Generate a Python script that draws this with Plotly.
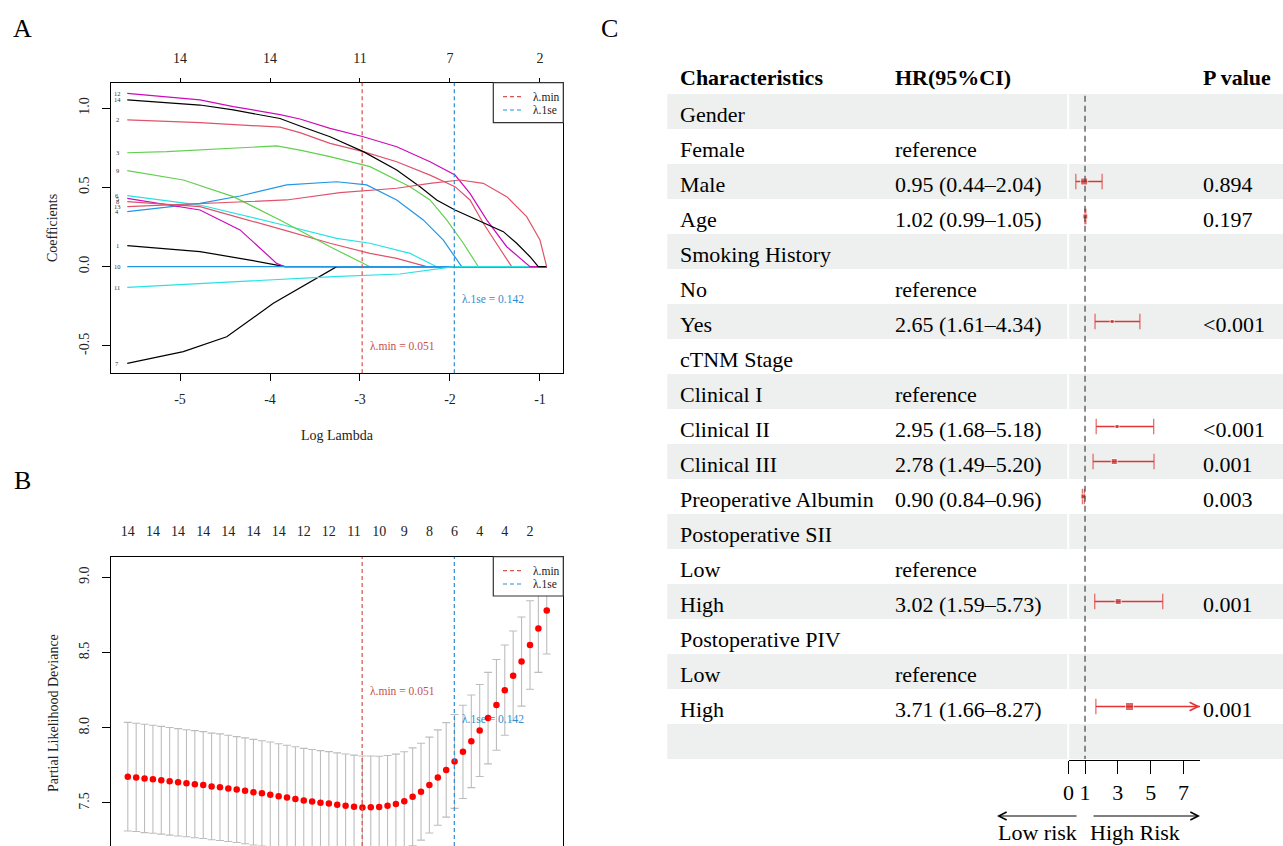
import math
import plotly.graph_objects as go

W, H = 1283, 846
SERIF = "Liberation Serif"

# ---------------- Panel A: LASSO coefficient paths (x = log lambda, y = coefficient) ----------------
path1_x = [-5.586, -4.778, -4.222, -3.833, -0.926]
path1_y = [0.133, 0.095, 0.042, 0.0, 0.0]
path2_x = [-5.586, -4.778, -3.889, -3.667, -3.333, -2.963, -2.592, -2.222, -1.944, -1.778, -1.630, -1.481, -1.315, -0.926]
path2_y = [0.926, 0.909, 0.880, 0.846, 0.778, 0.726, 0.662, 0.578, 0.505, 0.421, 0.274, 0.148, 0.0, 0.0]
path3_x = [-5.586, -5.148, -3.926, -3.667, -3.333, -2.889, -2.444, -2.222, -2.037, -1.852, -1.685, -0.926]
path3_y = [0.719, 0.726, 0.762, 0.736, 0.694, 0.631, 0.505, 0.421, 0.295, 0.148, 0.0, 0.0]
path4_x = [-5.586, -4.778, -4.333, -3.815, -3.259, -2.926, -2.592, -2.297, -2.074, -1.870, -0.926]
path4_y = [0.347, 0.400, 0.446, 0.516, 0.536, 0.516, 0.421, 0.295, 0.168, 0.0, 0.0]
path5_x = [-5.586, -4.778, -3.852, -3.259, -2.889, -2.444, -2.148, -0.926]
path5_y = [0.448, 0.389, 0.263, 0.179, 0.148, 0.084, 0.0, 0.0]
path6_x = [-5.586, -4.778, -4.333, -3.926, -3.833, -0.926]
path6_y = [0.431, 0.358, 0.232, 0.021, 0.0, 0.0]
path7_x = [-5.586, -4.963, -4.481, -3.963, -3.259, -0.926]
path7_y = [-0.610, -0.536, -0.442, -0.231, 0.0, 0.0]
path8_x = [-5.586, -4.778, -3.852, -3.333, -2.889, -2.592, -2.259, -0.926]
path8_y = [0.410, 0.379, 0.232, 0.148, 0.084, 0.053, 0.0, 0.0]
path9_x = [-5.586, -4.963, -4.408, -3.852, -3.333, -2.889, -0.926]
path9_y = [0.606, 0.547, 0.442, 0.284, 0.126, 0.0, 0.0]
path10_x = [-5.586, -0.926]
path10_y = [0.0, 0.0]
path11_x = [-5.586, -4.408, -3.297, -2.556, -1.952, -0.926]
path11_y = [-0.130, -0.095, -0.063, -0.046, 0.0, 0.0]
path12_x = [-5.586, -4.778, -4.408, -3.889, -3.667, -3.333, -2.963, -2.592, -2.222, -1.944, -1.778, -1.592, -1.370, -1.111, -0.926]
path12_y = [1.094, 1.052, 1.010, 0.960, 0.932, 0.873, 0.820, 0.757, 0.662, 0.578, 0.462, 0.295, 0.126, 0.0, 0.0]
path13_x = [-5.586, -4.778, -4.408, -3.889, -3.667, -3.333, -2.963, -2.592, -2.333, -2.148, -1.944, -1.704, -1.407, -1.259, -1.111, -1.019, -0.926]
path13_y = [1.052, 1.020, 0.989, 0.935, 0.888, 0.820, 0.726, 0.610, 0.505, 0.421, 0.358, 0.295, 0.221, 0.148, 0.063, 0.0, 0.0]
path14_x = [-5.586, -4.778, -3.815, -3.222, -2.592, -2.222, -1.889, -1.630, -1.370, -1.148, -1.000, -0.926]
path14_y = [0.379, 0.396, 0.421, 0.467, 0.495, 0.526, 0.547, 0.526, 0.442, 0.316, 0.168, 0.0]

path_labels = ["1", "2", "3", "4", "6", "5", "7", "8", "9", "10", "11", "12", "14", "13"]
path_colors = ["black", "#DF536B", "#61D04F", "#2297E6", "#28E2E5", "#CD0BBC",
               "black", "#DF536B", "#61D04F", "#2297E6", "#28E2E5", "#CD0BBC",
               "black", "#DF536B"]
bottom_ticks_A = [-5, -4, -3, -2, -1]
top_labels_A = ["14", "14", "11", "7", "2"]
yticks_A = [-0.5, 0.0, 0.5, 1.0]
lambda_min = 0.051
lambda_1se = 0.142

# ---------------- Panel B: cross-validation curve ----------------
cv_loglam = [-5.580, -5.487, -5.394, -5.301, -5.208, -5.115, -5.021, -4.928, -4.835, -4.742,
             -4.649, -4.556, -4.463, -4.370, -4.277, -4.184, -4.090, -3.997, -3.904, -3.811,
             -3.718, -3.625, -3.532, -3.439, -3.346, -3.253, -3.160, -3.066, -2.973, -2.880,
             -2.787, -2.694, -2.601, -2.508, -2.415, -2.322, -2.229, -2.135, -2.042, -1.949,
             -1.856, -1.763, -1.670, -1.577, -1.484, -1.391, -1.298, -1.205, -1.111, -1.018, -0.925]
cv_mean = [7.675, 7.670, 7.663, 7.658, 7.651, 7.644, 7.637, 7.631, 7.625, 7.619,
           7.610, 7.605, 7.597, 7.589, 7.581, 7.572, 7.564, 7.555, 7.545, 7.536,
           7.526, 7.516, 7.509, 7.502, 7.496, 7.489, 7.482, 7.475, 7.470, 7.472,
           7.474, 7.482, 7.494, 7.512, 7.541, 7.575, 7.619, 7.669, 7.720, 7.776,
           7.840, 7.910, 7.982, 8.064, 8.152, 8.250, 8.345, 8.440, 8.550, 8.660, 8.780]
cv_sd = [0.361, 0.360, 0.360, 0.359, 0.358, 0.358, 0.357, 0.356, 0.356, 0.355,
         0.354, 0.354, 0.353, 0.352, 0.352, 0.351, 0.350, 0.350, 0.349, 0.348,
         0.348, 0.347, 0.346, 0.346, 0.345, 0.344, 0.344, 0.343, 0.342, 0.340,
         0.337, 0.334, 0.331, 0.328, 0.325, 0.322, 0.319, 0.317, 0.314, 0.312,
         0.310, 0.308, 0.306, 0.304, 0.302, 0.300, 0.298, 0.296, 0.294, 0.292, 0.290]
cv_top_labels = ["14", "14", "14", "14", "14", "14", "14", "12", "12", "11", "10", "9", "8", "6", "4", "4", "2"]
yticks_B = [7.5, 8.0, 8.5, 9.0]

# ---------------- Panel C: forest table ----------------
row_names = ["Gender", "Female", "Male", "Age", "Smoking History", "No", "Yes", "cTNM Stage",
             "Clinical I", "Clinical II", "Clinical III", "Preoperative Albumin", "Postoperative SII",
             "Low", "High", "Postoperative PIV", "Low", "High", ""]
hr_text = ["", "reference", "0.95 (0.44\u20132.04)", "1.02 (0.99\u20131.05)", "", "reference",
           "2.65 (1.61\u20134.34)", "", "reference", "2.95 (1.68\u20135.18)", "2.78 (1.49\u20135.20)",
           "0.90 (0.84\u20130.96)", "", "reference", "3.02 (1.59\u20135.73)", "", "reference",
           "3.71 (1.66\u20138.27)", ""]
p_text = ["", "", "0.894", "0.197", "", "", "<0.001", "", "", "<0.001", "0.001", "0.003",
          "", "", "0.001", "", "", "0.001", ""]
hr = [None, None, 0.95, 1.02, None, None, 2.65, None, None, 2.95, 2.78, 0.90, None, None, 3.02, None, None, 3.71, None]
hr_lo = [None, None, 0.44, 0.99, None, None, 1.61, None, None, 1.68, 1.49, 0.84, None, None, 1.59, None, None, 1.66, None]
hr_hi = [None, None, 2.04, 1.05, None, None, 4.34, None, None, 5.18, 5.20, 0.96, None, None, 5.73, None, None, 8.27, None]
box_size = [0, 0, 7, 5, 0, 0, 4, 0, 0, 4, 6, 5, 0, 0, 6, 0, 0, 8, 0]
forest_ticks = [0, 1, 3, 5, 7]
FOREST_MAX = 8

RED_L = "#D9534F"
BLUE_L = "#2F8DCF"
CI_RED = "#E23434"


def fx(p):
    return p / W


def fy(p):
    return 1 - p / H


fig = go.Figure()

# ---- Panel A traces
paths = [(path1_x, path1_y), (path2_x, path2_y), (path3_x, path3_y), (path4_x, path4_y),
         (path5_x, path5_y), (path6_x, path6_y), (path7_x, path7_y), (path8_x, path8_y),
         (path9_x, path9_y), (path10_x, path10_y), (path11_x, path11_y), (path12_x, path12_y),
         (path13_x, path13_y), (path14_x, path14_y)]
for (px_, py_), col in zip(paths, path_colors):
    fig.add_trace(go.Scatter(x=px_, y=py_, mode="lines", line=dict(color=col, width=1.2),
                             xaxis="x", yaxis="y", hoverinfo="skip"))

# invisible helpers so the top (overlaying) axes get drawn
fig.add_trace(go.Scatter(x=bottom_ticks_A, y=[0] * len(bottom_ticks_A), mode="markers",
                         marker=dict(opacity=0), xaxis="x4", yaxis="y", hoverinfo="skip"))
fig.add_trace(go.Scatter(x=cv_loglam, y=cv_mean, mode="markers",
                         marker=dict(opacity=0), xaxis="x5", yaxis="y2", hoverinfo="skip"))

# ---- Panel B trace
fig.add_trace(go.Scatter(x=cv_loglam, y=cv_mean, mode="markers",
                         marker=dict(color="red", size=6.5),
                         error_y=dict(type="data", array=cv_sd, color="#BDBDBD", thickness=1.1, width=4),
                         xaxis="x2", yaxis="y2", hoverinfo="skip"))

# ---- Panel C traces
ci_x, ci_y, cap_size = [], [], []
for k, (lo, hi) in enumerate(zip(hr_lo, hr_hi), start=1):
    if lo is None:
        continue
    hc = min(hi, FOREST_MAX)
    ci_x += [lo, hc, None]
    ci_y += [k, k, None]
    cap_size += [11, 11 if hi <= FOREST_MAX else 0, 0]
fig.add_trace(go.Scatter(x=ci_x, y=ci_y, mode="lines+markers",
                         line=dict(color=CI_RED, width=1.3),
                         marker=dict(symbol="line-ns", size=cap_size, line=dict(color=CI_RED, width=1.3)),
                         xaxis="x3", yaxis="y3", hoverinfo="skip", cliponaxis=False))
sq_x, sq_y, sq_s = [], [], []
for k, (v, s) in enumerate(zip(hr, box_size), start=1):
    if v is None:
        continue
    sq_x.append(v)
    sq_y.append(k)
    sq_s.append(s)
fig.add_trace(go.Scatter(x=sq_x, y=sq_y, mode="markers",
                         marker=dict(symbol="square", size=sq_s, color="#CC2A2A"),
                         xaxis="x3", yaxis="y3", hoverinfo="skip", cliponaxis=False))

shapes = []
annotations = []


def note(xp, yp, text, size, color="#222222", xanchor="center", angle=0):
    annotations.append(dict(x=fx(xp), y=fy(yp), xref="paper", yref="paper", text=text, showarrow=False,
                            xanchor=xanchor, yanchor="middle", textangle=angle, borderpad=0,
                            font=dict(family=SERIF, size=size, color=color)))


# ---- Panel A / B decorations
for lam, col in [(lambda_min, RED_L), (lambda_1se, BLUE_L)]:
    shapes.append(dict(type="line", xref="x", yref="y domain", x0=math.log(lam), x1=math.log(lam),
                       y0=0, y1=1, line=dict(color=col, width=1.2, dash="4px,3px")))
    shapes.append(dict(type="line", xref="x2", yref="y2 domain", x0=math.log(lam), x1=math.log(lam),
                       y0=0, y1=1, line=dict(color=col, width=1.2, dash="4px,3px")))

for lab, (px_, py_) in zip(path_labels, paths):
    annotations.append(dict(x=-5.70, y=py_[0], xref="x", yref="y", text=lab, showarrow=False, borderpad=0,
                            font=dict(family=SERIF, size=6.5, color="#333333"), xanchor="center",
                            yanchor="middle"))

note(460.5, 299, "\u03bb.1se = 0.142", 11.5, BLUE_L, xanchor="left")
note(369, 346, "\u03bb.min = 0.051", 11.5, "#C8504C", xanchor="left")
note(460.5, 719, "\u03bb.1se = 0.142", 11.5, BLUE_L, xanchor="left")
note(369, 691, "\u03bb.min = 0.051", 11.5, "#C8504C", xanchor="left")

# legends (A and B)
for top, bot in [(82.7, 122.7), (556.7, 596.0)]:
    shapes.append(dict(type="rect", xref="paper", yref="paper", x0=fx(493.3), x1=fx(563.3),
                       y0=fy(bot), y1=fy(top), fillcolor="white", line=dict(color="#333333", width=1.2),
                       layer="above"))
    for dy, col, txt in [(14.0, RED_L, "\u03bb.min"), (27.3, BLUE_L, "\u03bb.1se")]:
        shapes.append(dict(type="line", xref="paper", yref="paper", x0=fx(503), x1=fx(521),
                           y0=fy(top + dy), y1=fy(top + dy), line=dict(color=col, width=1.2, dash="4px,3px"),
                           layer="above"))
        note(531.5, top + dy, txt, 11.5, "#222222", xanchor="left")

# axis titles
note(337, 435, "Log Lambda", 14)
note(53, 228, "Coefficients", 14, angle=-90)
note(53, 713, "Partial Likelihood Deviance", 14, angle=-90)

# panel letters
for letter, (lx, ly) in zip(["A", "B", "C"], [(22.5, 28), (22, 480), (609, 28)]):
    note(lx, ly, letter, 26, "black")

# ---- Panel C decorations
BAND = "#EDF0EF"
for k in range(1, len(row_names) + 1):
    if k % 2 == 1:
        shapes.append(dict(type="rect", xref="paper", yref="y3", x0=fx(667.3), x1=fx(1067.3),
                           y0=k - 0.5, y1=k + 0.5, fillcolor=BAND, line=dict(width=0), layer="below"))
        shapes.append(dict(type="rect", xref="paper", yref="y3", x0=fx(1069.2), x1=1.0,
                           y0=k - 0.5, y1=k + 0.5, fillcolor=BAND, line=dict(width=0), layer="below"))

shapes.append(dict(type="line", xref="x3", yref="y3", x0=1, x1=1, y0=0.55, y1=19.5,
                   line=dict(color="#444444", width=1.2, dash="6px,4px")))

TFONT = dict(family=SERIF, size=22, color="black")
for txt, xpx in [("<b>Characteristics</b>", 679), ("<b>HR(95%CI)</b>", 894), ("<b>P value</b>", 1202)]:
    annotations.append(dict(x=fx(xpx), y=0, xref="paper", yref="y3", text=txt, showarrow=False,
                            xanchor="left", yanchor="middle", yshift=-1, borderpad=0, font=TFONT))
for k, (nm, ht, pt) in enumerate(zip(row_names, hr_text, p_text), start=1):
    for txt, xpx in [(nm, 679), (ht, 894), (pt, 1202)]:
        if txt:
            annotations.append(dict(x=fx(xpx), y=k, xref="paper", yref="y3", text=txt, showarrow=False,
                                    xanchor="left", yanchor="middle", yshift=-3, borderpad=0, font=TFONT))

# truncated CI arrows
for k, (lo, hi) in enumerate(zip(hr_lo, hr_hi), start=1):
    if hi is not None and hi > FOREST_MAX:
        annotations.append(dict(x=FOREST_MAX, y=k, xref="x3", yref="y3", ax=FOREST_MAX - 1.0, ay=k,
                                axref="x3", ayref="y3", text="", showarrow=True, arrowhead=5,
                                arrowsize=1.4, arrowwidth=1.2, arrowcolor=CI_RED))

# risk arrows
annotations.append(dict(x=fx(997), y=fy(816), xref="paper", yref="paper", ax=81, ay=0, text="",
                        showarrow=True, arrowhead=5, arrowsize=1.3, arrowwidth=1.2, arrowcolor="black"))
annotations.append(dict(x=fx(1200), y=fy(816), xref="paper", yref="paper", ax=-108, ay=0, text="",
                        showarrow=True, arrowhead=5, arrowsize=1.3, arrowwidth=1.2, arrowcolor="black"))
note(1037, 832, "Low risk", 22, "black")
note(1135, 832, "High Risk", 22, "black")

AX = dict(showgrid=False, zeroline=False, automargin=False, linecolor="black", linewidth=1,
          tickcolor="black", tickfont=dict(family=SERIF, size=14, color="#222222"))
xrangeAB = [-5.77, -0.741]

fig.update_layout(
    width=W, height=H, autosize=False, margin=dict(l=0, r=0, t=0, b=0, pad=0),
    paper_bgcolor="white", plot_bgcolor="rgba(0,0,0,0)", showlegend=False,
    font=dict(family=SERIF),
    xaxis=dict(AX, domain=[fx(110.7), fx(563.3)], range=xrangeAB, anchor="y", showline=True, mirror=True,
               ticks="outside", ticklen=7, tickvals=bottom_ticks_A, ticktext=[str(v) for v in bottom_ticks_A],
               ticklabelstandoff=6),
    yaxis=dict(AX, domain=[fy(373.3), fy(82.7)], range=[-0.6726, 1.1609], anchor="x", showline=True,
               mirror=True, ticks="outside", ticklen=8, tickvals=yticks_A,
               ticktext=["%.1f" % v for v in yticks_A], tickangle=-90, ticklabelstandoff=7),
    xaxis4=dict(AX, overlaying="x", side="top", anchor="y", range=xrangeAB, showline=False,
                ticks="outside", ticklen=4, tickvals=bottom_ticks_A, ticktext=top_labels_A,
                ticklabelstandoff=9),
    xaxis2=dict(AX, domain=[fx(110.7), fx(563.3)], range=xrangeAB, anchor="y2", showline=False,
                showticklabels=False, ticks=""),
    yaxis2=dict(AX, domain=[0, fy(556.7)], range=[7.214, 9.137], anchor="x2", showline=True, mirror=True,
                ticks="outside", ticklen=8, tickvals=yticks_B, ticktext=["%.1f" % v for v in yticks_B],
                tickangle=-90, ticklabelstandoff=7),
    xaxis5=dict(AX, overlaying="x2", side="top", anchor="y2", range=xrangeAB, showline=True,
                ticks="", tickvals=cv_loglam[::3], ticktext=cv_top_labels, ticklabelstandoff=14),
    xaxis3=dict(AX, domain=[fx(1068.6), fx(1200)], range=[0, FOREST_MAX], anchor="free",
                position=fy(760), showline=True, ticks="outside", ticklen=13, tickvals=forest_ticks,
                ticktext=[str(v) for v in forest_ticks], ticklabelstandoff=0,
                tickfont=dict(family=SERIF, size=22, color="black")),
    yaxis3=dict(domain=[0, 1], range=[(846 - 76.5) / 35, -76.5 / 35], anchor="x3", visible=False,
                showgrid=False, zeroline=False, automargin=False),
    shapes=shapes, annotations=annotations,
)

fig.write_html("out.html")
